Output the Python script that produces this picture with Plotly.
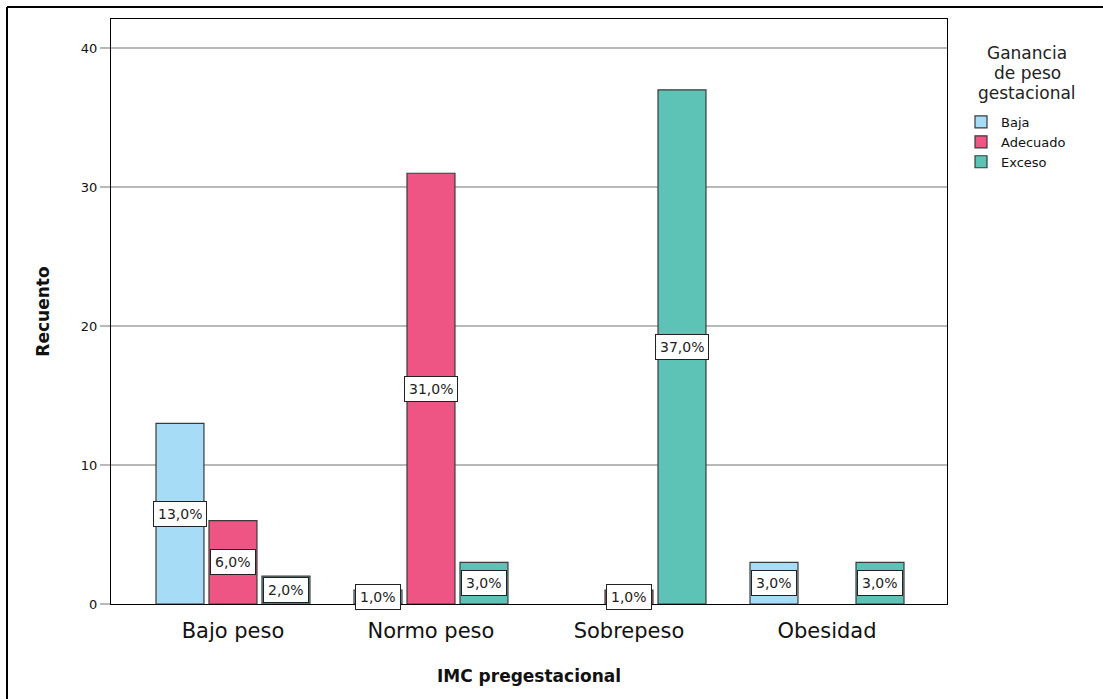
import plotly.graph_objects as go

# Pre-pregnancy BMI groups and gestational weight gain counts
categories = ["Bajo peso", "Normo peso", "Sobrepeso", "Obesidad"]
series_names = ["Baja", "Adecuado", "Exceso"]
baja = [13, 1, 0, 3]
adecuado = [6, 31, 1, 0]
exceso = [2, 3, 37, 3]
y_ticks = [0, 10, 20, 30, 40]

colors = ["#a6dcf6", "#ee5585", "#5ec3b7"]
series = [baja, adecuado, exceso]
total = sum(sum(s) for s in series)

FONT = "DejaVu Sans, Verdana, sans-serif"
BARGAP = 0.197
GROUPGAP = 0.095
slot = (1 - BARGAP) / len(series)

fig = go.Figure()
for name, vals, col in zip(series_names, series, colors):
    fig.add_trace(go.Bar(
        name=name, x=categories, y=vals,
        marker=dict(color=col,
                    line=dict(color="#3a3a3a",
                              width=[1.2 if v > 0 else 0 for v in vals])),
    ))

# Percentage labels in white boxes at the middle of each bar
annotations = []
for j, vals in enumerate(series):
    for i, v in enumerate(vals):
        if v == 0:
            continue
        pct = f"{v / total * 100:.1f}%".replace(".", ",")
        annotations.append(dict(
            x=i + (j - 1) * slot, y=v / 2, xref="x", yref="y",
            text=pct, showarrow=False,
            font=dict(family=FONT, size=14, color="#222"),
            bgcolor="white", bordercolor="#222", borderwidth=1, borderpad=4,
        ))

# Pixel helpers for paper coordinates (plot area spans x 111..947, y 19..604)
px_w, px_h = 836, 585
def xp(px):
    return (px - 111) / px_w
def yp(py):
    return (604 - py) / px_h

# Legend heading, centered above the legend entries
for k, line in enumerate(["Ganancia", "de peso", "gestacional"]):
    annotations.append(dict(
        x=xp(1027), y=yp(53 + 20 * k), xref="paper", yref="paper",
        xanchor="center", yanchor="middle", text=line, showarrow=False,
        font=dict(family=FONT, size=17, color="#222"),
    ))

# Outer frame (left and top edges)
shapes = [
    dict(type="line", xref="paper", yref="paper", x0=xp(7), x1=xp(7), y0=yp(7), y1=yp(699),
         line=dict(color="black", width=2)),
    dict(type="line", xref="paper", yref="paper", x0=xp(7), x1=xp(1103), y0=yp(7), y1=yp(7),
         line=dict(color="black", width=2)),
]

fig.update_layout(
    width=1103, height=699,
    margin=dict(l=111, r=156, t=19, b=95),
    paper_bgcolor="white", plot_bgcolor="white",
    barmode="group", bargap=BARGAP, bargroupgap=GROUPGAP,
    font=dict(family=FONT, color="#111"),
    annotations=annotations,
    shapes=shapes,
    legend=dict(
        x=xp(961), y=yp(107), xanchor="left", yanchor="top",
        font=dict(family=FONT, size=13, color="#111"),
        tracegroupgap=0, itemwidth=30,
        bgcolor="rgba(0,0,0,0)",
    ),
    xaxis=dict(
        range=[-0.616, 3.606],
        showline=True, linecolor="black", linewidth=1, mirror=True,
        ticks="", tickfont=dict(family=FONT, size=21, color="#111"),
        ticklabelstandoff=8,
        title=dict(text="<b>IMC pregestacional</b>", font=dict(family=FONT, size=17, color="#111"),
                   standoff=27),
    ),
    yaxis=dict(
        range=[0, 42.1], tickvals=y_ticks,
        showgrid=True, gridcolor="#b9b9b9", gridwidth=1.5,
        showline=True, linecolor="black", linewidth=1, mirror=True,
        ticks="outside", ticklen=10, tickcolor="#b9b9b9", tickwidth=1.5,
        tickfont=dict(family=FONT, size=13, color="#111"),
        zeroline=False,
        title=dict(text="<b>Recuento</b>", font=dict(family=FONT, size=17, color="#111"),
                   standoff=26),
    ),
)

fig.write_html("out.html")
